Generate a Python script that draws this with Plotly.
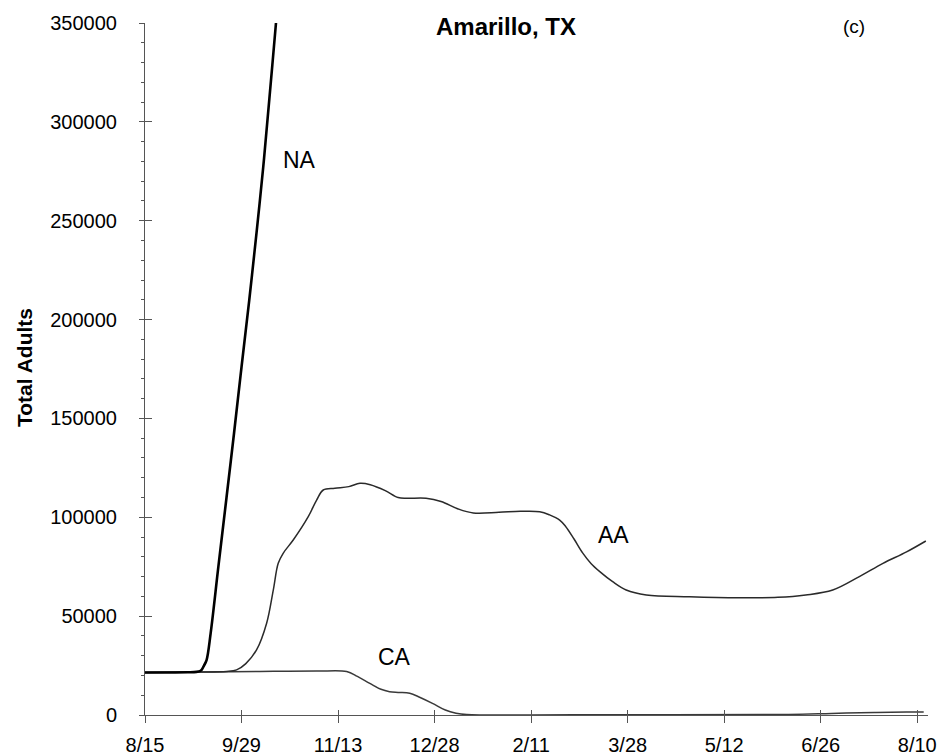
import plotly.graph_objects as go

# ---- data (day number counted from 8/15) ----
tick_days = [0, 45, 90, 135, 180, 225, 270, 315, 360]
tick_labels = ["8/15", "9/29", "11/13", "12/28", "2/11", "3/28", "5/12", "6/26", "8/10"]
y_ticks = [0, 50000, 100000, 150000, 200000, 250000, 300000, 350000]
y_tick_labels = ["0", "50000", "100000", "150000", "200000", "250000", "300000", "350000"]

na_days = [0, 10, 20, 24, 25.6, 26.4, 27.5, 28.7, 30.6, 34.2, 38, 41.5, 45, 48.6, 52, 55.1, 58, 61.3, 63]
na_vals = [21500, 21500, 21600, 21800, 22200, 22800, 25000, 27800, 41300, 75000, 110000, 142500, 176000, 209900, 244000, 277000, 312000, 353000, 375000]

aa_days = [0, 20, 38, 42.7, 47, 52, 56.7, 59.8, 62.1, 64.4, 69.1, 76.1, 80, 83.1, 88.5, 95, 100.2,
           105, 112, 118, 122, 131, 138, 146, 153, 165, 175, 184, 188.6, 193.3, 196, 200, 204, 208,
           212, 218, 224.3, 233.7, 253.8, 277, 295, 308, 320.6, 333, 344, 355, 364]
aa_vals = [21500, 21800, 22000, 22800, 26000, 32900, 46400, 63200, 76700, 81800, 88500, 100300,
           108700, 113800, 114700, 115500, 117200, 116500, 113500, 110000, 109600, 109600, 108000,
           104200, 102200, 102500, 103000, 102800, 101200, 98600, 95500, 89000, 82000, 76500,
           72500, 67400, 63200, 60700, 59800, 59300, 59500, 60700, 63200, 70000, 76700, 82500, 88000]

ca_days = [0, 40, 60, 80, 94, 99, 104.8, 110, 114, 118, 123.4, 128, 134, 140, 145, 150, 200, 300, 320, 340, 355, 363]
ca_vals = [21500, 21900, 22100, 22200, 22000, 19500, 16000, 13000, 11800, 11400, 11000, 9000, 5900,
           2500, 900, 200, 100, 300, 800, 1300, 1500, 1500]

FONT = "Liberation Sans, Arial, sans-serif"

fig = go.Figure()
fig.add_trace(go.Scatter(x=ca_days, y=ca_vals, mode="lines", line=dict(color="#3a3a3a", width=1.5), line_shape="spline"))
fig.add_trace(go.Scatter(x=aa_days, y=aa_vals, mode="lines", line=dict(color="#2a2a2a", width=1.5), line_shape="spline"))
fig.add_trace(go.Scatter(x=na_days, y=na_vals, mode="lines", line=dict(color="#000000", width=2.6), line_shape="spline"))
# overlay axes for the inner half of crossing ticks
fig.add_trace(go.Scatter(x=[], y=[], xaxis="x2", yaxis="y2", mode="lines", hoverinfo="skip"))

xr = [0, 365]
yr = [0, 350000]
axcol = "#555555"

fig.update_layout(
    width=940, height=756,
    margin=dict(l=145, r=12, t=23, b=41, autoexpand=False),
    paper_bgcolor="white", plot_bgcolor="white",
    showlegend=False,
    font=dict(family=FONT, color="black", size=20),
    xaxis=dict(range=xr, tickmode="array", tickvals=tick_days, ticktext=tick_labels, automargin=False,
               showgrid=False, zeroline=False, showline=True, linecolor=axcol, linewidth=1,
               ticks="outside", ticklen=7, tickcolor=axcol, tickwidth=1,
               tickfont=dict(size=20, family=FONT), ticklabelstandoff=5),
    yaxis=dict(range=yr, tickmode="array", tickvals=y_ticks, ticktext=y_tick_labels, automargin=False,
               showgrid=False, zeroline=False, showline=True, linecolor=axcol, linewidth=1,
               ticks="outside", ticklen=5, tickcolor=axcol, tickwidth=1,
               minor=dict(dtick=10000, ticks="outside", ticklen=3, tickcolor=axcol, showgrid=False),
               tickfont=dict(size=20, family=FONT), ticklabelstandoff=18),
    xaxis2=dict(range=xr, overlaying="x", anchor="y2", tickmode="array", tickvals=tick_days, automargin=False,
                showticklabels=False, showgrid=False, zeroline=False, showline=False,
                ticks="inside", ticklen=5, tickcolor=axcol),
    yaxis2=dict(range=yr, overlaying="y", anchor="x2", tickmode="array", tickvals=y_ticks, automargin=False,
                showticklabels=False, showgrid=False, zeroline=False, showline=False,
                ticks="inside", ticklen=7, tickcolor=axcol),
)

ann = [
    dict(text="<b>Amarillo, TX</b>", x=168.3, y=348000, xref="x", yref="y", showarrow=False,
         font=dict(size=24, family=FONT)),
    dict(text="(c)", x=330.5, y=348000, xref="x", yref="y", showarrow=False,
         font=dict(size=19, family=FONT)),
    dict(text="NA", x=71.8, y=280700, xref="x", yref="y", showarrow=False, font=dict(size=23, family=FONT)),
    dict(text="CA", x=116.1, y=29300, xref="x", yref="y", showarrow=False, font=dict(size=23, family=FONT)),
    dict(text="AA", x=218.5, y=91000, xref="x", yref="y", showarrow=False, font=dict(size=23, family=FONT)),
    dict(text="<b>Total Adults</b>", x=-0.1545, y=(715 - 368) / 692, xref="paper", yref="paper",
         xanchor="center", yanchor="middle",
         showarrow=False, textangle=-90, font=dict(size=21, family=FONT)),
]
fig.update_layout(annotations=ann)

fig.write_html("out.html")
